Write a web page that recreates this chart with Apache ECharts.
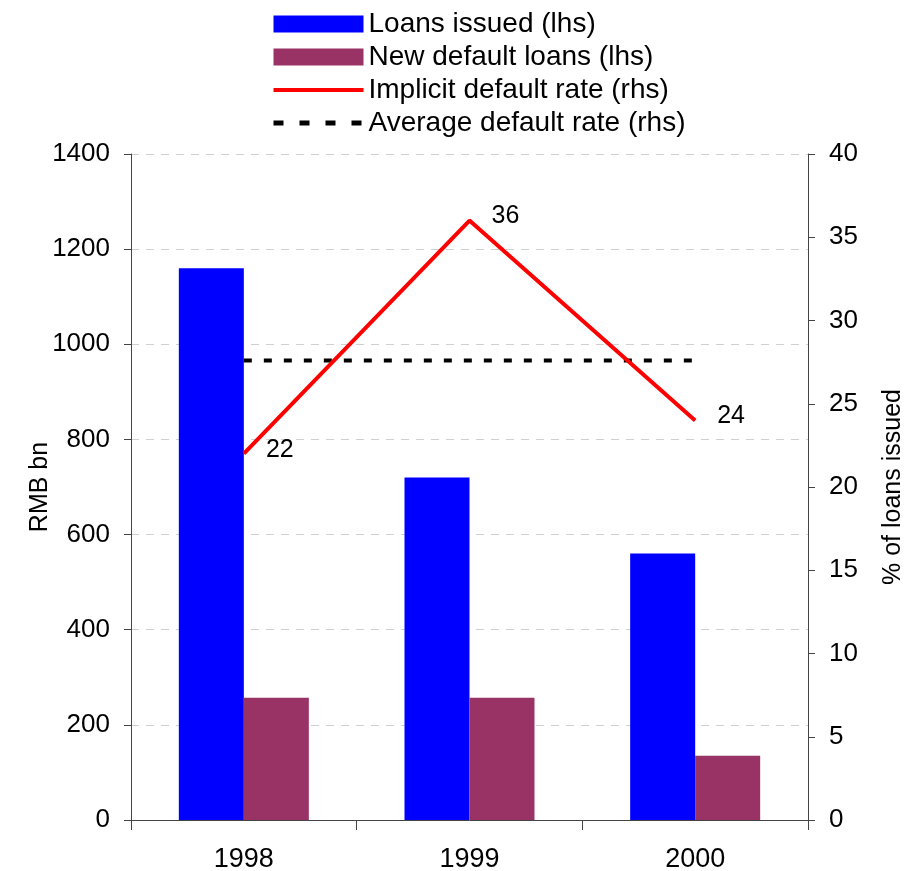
<!DOCTYPE html>
<html>
<head>
<meta charset="utf-8">
<script src="https://cdn.jsdelivr.net/npm/echarts@6/dist/echarts.min.js"></script>
<style>
  html, body { margin: 0; padding: 0; background: #fff; }
  #chart { width: 916px; height: 871px; }
</style>
</head>
<body>
<div id="chart"></div>
<script>
// Chinese bank loans and defaults, 1998-2000
const years = ['1998', '1999', '2000'];
const loansIssued = [1160, 720, 560];        // RMB bn
const newDefaultLoans = [257, 257, 135];     // RMB bn
const implicitRate = [22, 36, 24];           // % of loans issued
const averageRate = [27.6, 27.6, 27.6];      // % of loans issued
const leftTicks = { min: 0, max: 1400, step: 200 };
const rightTicks = { min: 0, max: 40, step: 5 };

const font = 'Liberation Sans, Arial, sans-serif';
const chart = echarts.init(document.getElementById('chart'), null, { renderer: 'canvas' });

chart.setOption({
  animation: false,
  textStyle: { fontFamily: font, color: '#000' },
  legend: {
    top: 10,
    left: 271,
    padding: 0,
    orient: 'vertical',
    itemWidth: 90,
    itemHeight: 17,
    itemGap: 5,
    textStyle: { fontSize: 28, color: '#000', fontFamily: font },
    data: [
      { name: 'Loans issued (lhs)', icon: 'rect' },
      { name: 'New default loans (lhs)', icon: 'rect' },
      {
        name: 'Implicit default rate (rhs)',
        itemStyle: { opacity: 0 },
        lineStyle: { color: '#ff0000', width: 4 }
      },
      {
        name: 'Average default rate (rhs)',
        itemStyle: { opacity: 0 },
        lineStyle: { color: '#000', width: 5, type: [10, 16] }
      }
    ]
  },
  grid: { left: 131, right: 108, top: 154, bottom: 51, containLabel: false, outerBoundsMode: 'none' },
  xAxis: {
    type: 'category',
    data: years,
    boundaryGap: true,
    axisLine: { lineStyle: { color: '#444', width: 1 } },
    axisTick: { show: true, length: 10, lineStyle: { color: '#444' } },
    axisLabel: { fontSize: 27, color: '#000', margin: 26, fontFamily: font }
  },
  yAxis: [
    {
      type: 'value',
      min: leftTicks.min, max: leftTicks.max, interval: leftTicks.step,
      name: 'RMB bn',
      nameLocation: 'middle',
      nameRotate: 90,
      nameGap: 78,
      nameMoveOverlap: false,
      nameTextStyle: { fontSize: 25, color: '#000', fontFamily: font },
      axisLine: { show: true, lineStyle: { color: '#444' } },
      axisTick: { show: true, length: 7, lineStyle: { color: '#444' } },
      axisLabel: { fontSize: 26, color: '#000', margin: 21, fontFamily: font, formatter: v => String(v) },
      splitLine: { show: true, lineStyle: { color: '#d0d0d0', type: [8, 7], width: 1 } }
    },
    {
      type: 'value',
      position: 'right',
      min: rightTicks.min, max: rightTicks.max, interval: rightTicks.step,
      name: '% of loans issued',
      nameLocation: 'middle',
      nameRotate: 90,
      nameGap: 73,
      nameMoveOverlap: false,
      nameTextStyle: { fontSize: 25, color: '#000', fontFamily: font },
      axisLine: { show: true, lineStyle: { color: '#444' } },
      axisTick: { show: true, length: 7, lineStyle: { color: '#444' } },
      axisLabel: { fontSize: 26, color: '#000', margin: 21, fontFamily: font, formatter: v => String(v) },
      splitLine: { show: false }
    }
  ],
  series: [
    {
      name: 'Loans issued (lhs)',
      type: 'bar',
      yAxisIndex: 0,
      data: loansIssued,
      barWidth: 65,
      barGap: '0%',
      itemStyle: { color: '#0000ff' }
    },
    {
      name: 'New default loans (lhs)',
      type: 'bar',
      yAxisIndex: 0,
      data: newDefaultLoans,
      barWidth: 65,
      barGap: '0%',
      itemStyle: { color: '#993366' }
    },
    {
      name: 'Implicit default rate (rhs)',
      type: 'line',
      yAxisIndex: 1,
      data: implicitRate,
      symbol: 'circle',
      symbolSize: 0.1,
      showSymbol: true,
      lineStyle: { color: '#ff0000', width: 4 },
      itemStyle: { color: '#ff0000' },
      label: {
        show: true,
        position: 'right',
        distance: 22,
        offset: [0, -4],
        fontSize: 25,
        color: '#000',
        fontFamily: font
      },
      z: 5
    },
    {
      name: 'Average default rate (rhs)',
      type: 'line',
      yAxisIndex: 1,
      data: averageRate,
      symbol: 'none',
      lineStyle: { color: '#000', width: 4, type: [8, 12] },
      itemStyle: { color: '#000' },
      z: 4
    }
  ]
});
</script>
</body>
</html>
